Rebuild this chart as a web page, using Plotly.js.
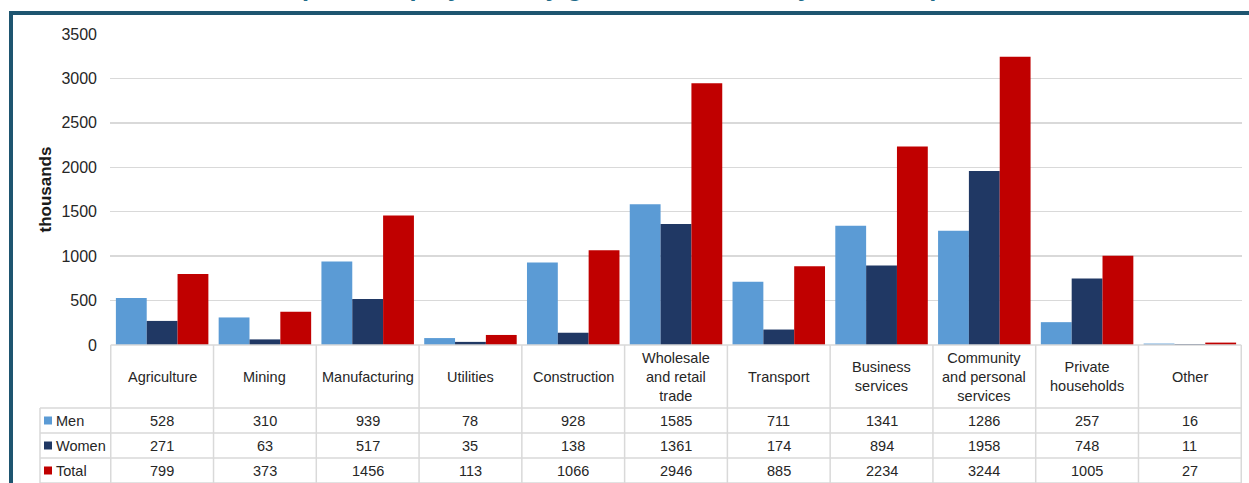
<!DOCTYPE html>
<html>
<head>
<meta charset="utf-8">
<script src="https://cdn.plot.ly/plotly-3.0.1.min.js"></script>
<style>html,body{margin:0;padding:0;background:#fff;}#chart{width:1249px;height:483px;}</style>
</head>
<body>
<div id="chart"></div>
<script>
// ---- data ----
const titleText = 'Graph 5: Employment by gender and industry, second quarter';
const categories = ['Agriculture', 'Mining', 'Manufacturing', 'Utilities', 'Construction',
  'Wholesale<br>and retail<br>trade', 'Transport', 'Business<br>services',
  'Community<br>and personal<br>services', 'Private<br>households', 'Other'];
const seriesNames = ['Men', 'Women', 'Total'];
const men = [528, 310, 939, 78, 928, 1585, 711, 1341, 1286, 257, 16];
const women = [271, 63, 517, 35, 138, 1361, 174, 894, 1958, 748, 11];
const total = [799, 373, 1456, 113, 1066, 2946, 885, 2234, 3244, 1005, 27];
const yTicks = [0, 500, 1000, 1500, 2000, 2500, 3000, 3500];
const yTitle = 'thousands';

// ---- styling ----
const W = 1249, H = 483;
const colors = ['#5b9bd5', '#203864', '#c00000'];
const gridC = '#d9d9d9';
const textC = '#262626';
const FONT = 'Liberation Sans, Arial, sans-serif';
const px = p => p / W;
const py = p => 1 - p / H;

const plotL = 110, plotR = 1242, plotT = 34, plotB = 345;
const rowLines = [408, 433, 458, 483];
const labelColL = 40;

const values = [men, women, total];
const traces = values.map((v, s) => ({
  type: 'bar', name: seriesNames[s], x: categories, y: v,
  marker: {color: colors[s], line: {width: 0}},
  hoverinfo: 'x+y'
}));

const shapes = [];
const annotations = [];
const n = categories.length;

// table horizontal lines
shapes.push({type: 'line', xref: 'x', yref: 'paper', x0: -0.5, x1: n - 0.5, y0: py(plotB), y1: py(plotB), line: {color: gridC, width: 1.5}});
rowLines.forEach(r => shapes.push({type: 'line', xref: 'paper', yref: 'paper', x0: px(labelColL), x1: px(plotR), y0: py(r), y1: py(r), line: {color: gridC, width: 1.5}}));
// vertical lines at category boundaries
for (let i = 0; i <= n; i++) {
  shapes.push({type: 'line', xref: 'x', yref: 'paper', x0: i - 0.5, x1: i - 0.5, y0: py(plotB), y1: 0, line: {color: gridC, width: 1.5}});
}
// left edge of label column
shapes.push({type: 'line', xref: 'paper', yref: 'paper', x0: px(labelColL), x1: px(labelColL), y0: py(rowLines[0]), y1: 0, line: {color: gridC, width: 1.5}});

// header labels
categories.forEach((c, i) => annotations.push({
  xref: 'x', yref: 'paper', x: i, y: py((plotB + rowLines[0]) / 2), text: c, showarrow: false,
  xanchor: 'center', yanchor: 'middle', font: {family: FONT, size: 14.5, color: textC}
}));
// rows
values.forEach((v, s) => {
  const yc = py((rowLines[s] + rowLines[s + 1]) / 2);
  v.forEach((val, i) => annotations.push({
    xref: 'x', yref: 'paper', x: i, y: yc, text: String(val), showarrow: false,
    xanchor: 'center', yanchor: 'middle', font: {family: FONT, size: 14.5, color: textC}
  }));
  shapes.push({type: 'rect', xref: 'paper', yref: 'paper', x0: px(44), x1: px(52),
    y0: yc - 4 / H, y1: yc + 4 / H, fillcolor: colors[s], line: {width: 0}});
  annotations.push({xref: 'paper', yref: 'paper', x: px(54), y: yc, text: seriesNames[s], showarrow: false,
    xanchor: 'left', yanchor: 'middle', font: {family: FONT, size: 14.5, color: textC}});
});

// frame
shapes.push({type: 'rect', xref: 'paper', yref: 'paper', x0: px(11), x1: 1.1, y0: -0.1, y1: py(13),
  line: {color: '#1e5570', width: 4}, fillcolor: 'rgba(0,0,0,0)'});

// cut-off title (only its lower edge is visible, as in the reference)
annotations.push({xref: 'paper', yref: 'paper', x: px(633), y: py(3.5), text: '<b>' + titleText + '</b>', showarrow: false,
  xanchor: 'center', yanchor: 'bottom', font: {family: FONT, size: 25.5, color: '#1f6b8a'}});

const layout = {
  width: W, height: H,
  margin: {l: 0, r: 0, t: 0, b: 0},
  paper_bgcolor: '#fff', plot_bgcolor: '#fff',
  barmode: 'group', bargap: 0.1, bargroupgap: 0,
  showlegend: false,
  xaxis: {domain: [px(plotL), px(plotR)], showticklabels: false, ticks: '', showgrid: false, zeroline: false, showline: false, fixedrange: true},
  yaxis: {domain: [py(plotB), py(plotT)], range: [0, 3500], tickvals: yTicks, ticktext: yTicks.map(String),
    showgrid: true, gridcolor: gridC, gridwidth: 1.5, zeroline: false, showline: false, ticks: '',
    ticklabelstandoff: 12,
    tickfont: {family: FONT, size: 16, color: textC},
    title: {text: '<b>' + yTitle + '</b>', standoff: 5, font: {family: FONT, size: 17, color: '#1a1a1a'}}},
  shapes: shapes,
  annotations: annotations
};

Plotly.newPlot('chart', traces, layout, {displayModeBar: false, staticPlot: true});
</script>
</body>
</html>
